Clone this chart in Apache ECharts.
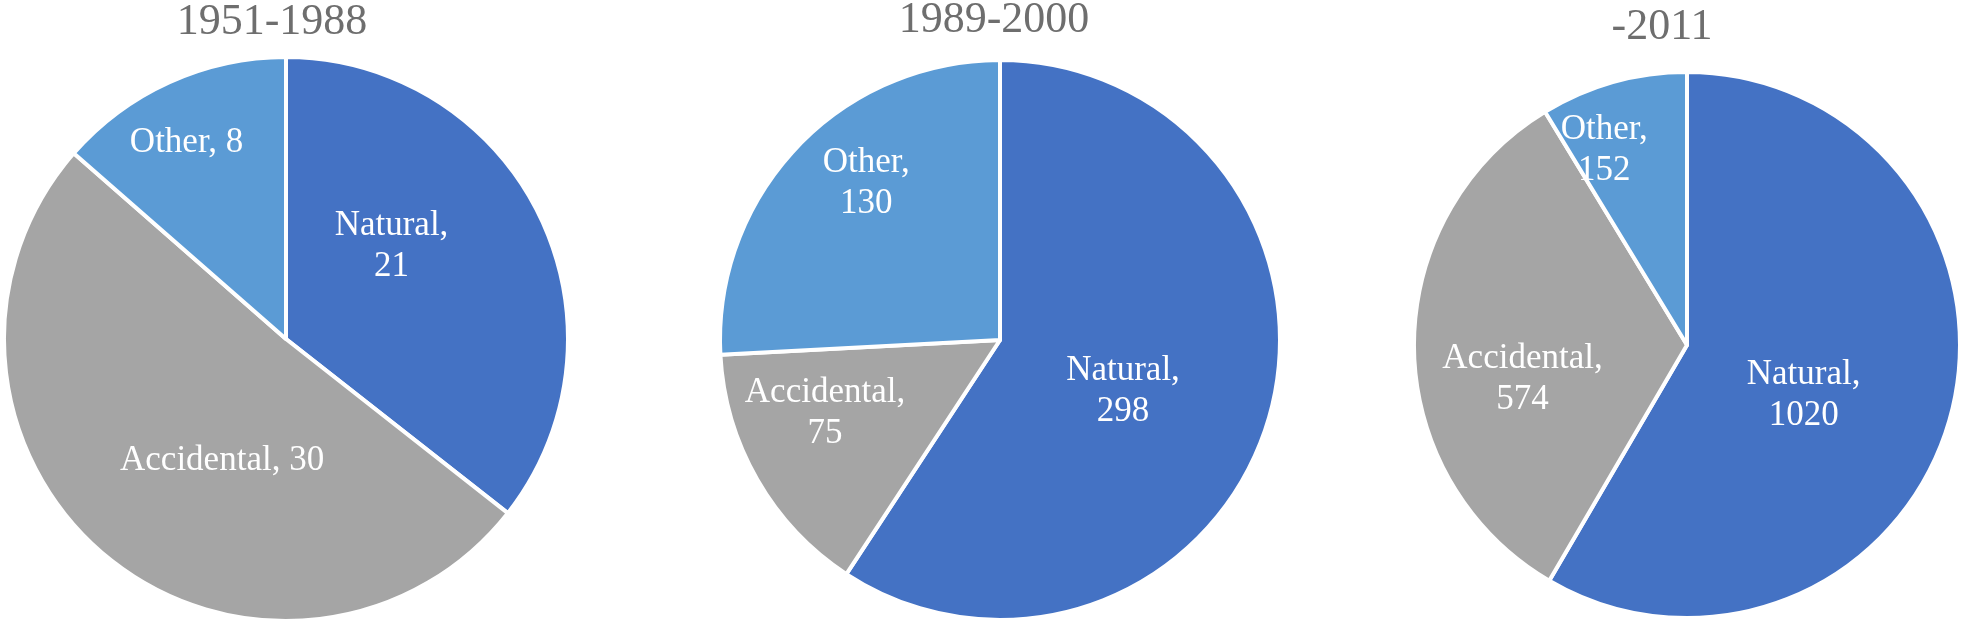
<!DOCTYPE html>
<html>
<head>
<meta charset="utf-8">
<script src="https://cdn.jsdelivr.net/npm/echarts@6/dist/echarts.min.js"></script>
<style>
html,body{margin:0;padding:0;background:#fff;}
#chart{width:1961px;height:623px;}
</style>
</head>
<body>
<div id="chart"></div>
<script>
// ---- data ----
const categories = ['Natural', 'Accidental', 'Other'];
const periods = ['1951-1988', '1989-2000', '-2011'];
const values1951 = [21, 30, 8];
const values1989 = [298, 75, 130];
const values2011 = [1020, 574, 152];

// ---- layout / styles ----
const colors = ['#4472C4', '#A5A5A5', '#5B9BD5'];
const pieCenters = [[286, 339], [1000, 340], [1687, 345]];
const pieRadii = [282, 280, 273];
const titleX = [272, 994, 1662];
const titleY = [0, -2, 5];
// whether label breaks after the comma, per pie per slice
const wrapLabel = [[true, false, false], [true, true, true], [true, true, true]];
const labelOffsets = [
  [[-24, -30], [28, 11], [-40, -65]],
  [[-14, 10], [-51, 2], [-30, -58]],
  [[-18, 14], [-25, 33], [-45, -60]]
];

const allValues = [values1951, values1989, values2011];
const serif = '"Liberation Serif", "Times New Roman", serif';

const chart = echarts.init(document.getElementById('chart'), null, {renderer: 'canvas'});

const option = {
  backgroundColor: '#ffffff',
  animation: false,
  title: periods.map((p, i) => ({
    text: p,
    left: titleX[i],
    top: titleY[i],
    textAlign: 'center',
    padding: 0,
    textStyle: {fontFamily: serif, fontSize: 44, fontWeight: 'normal', color: '#6e6e6e'}
  })),
  series: allValues.map((vals, i) => ({
    type: 'pie',
    center: pieCenters[i],
    radius: [0, pieRadii[i]],
    startAngle: 90,
    clockwise: true,
    avoidLabelOverlap: false,
    labelLine: {show: false},
    itemStyle: {borderColor: '#ffffff', borderWidth: 4},
    emphasis: {disabled: true},
    data: categories.map((c, j) => ({
      name: c,
      value: vals[j],
      itemStyle: {color: colors[j]},
      label: {
        show: true,
        position: 'inside',
        offset: labelOffsets[i][j],
        formatter: c + (wrapLabel[i][j] ? ',\n' : ', ') + vals[j],
        color: '#ffffff',
        fontFamily: serif,
        fontSize: 35,
        lineHeight: 41,
        align: 'center'
      }
    }))
  }))
};
chart.setOption(option);
</script>
</body>
</html>
